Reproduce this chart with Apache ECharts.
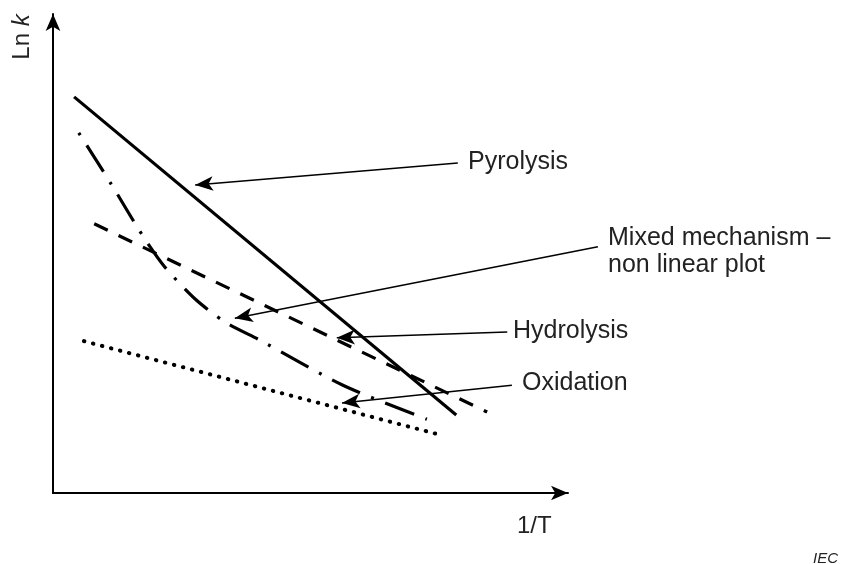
<!DOCTYPE html>
<html>
<head>
<meta charset="utf-8">
<script src="https://cdn.jsdelivr.net/npm/echarts@6/dist/echarts.min.js"></script>
<style>
  html, body { margin: 0; padding: 0; background: #fff; }
  #chart { width: 841px; height: 564px; }
</style>
</head>
<body>
<div id="chart"></div>
<script>
  // esquema sin escala: x = 1/T, y = Ln k, ambos en unidades 0..100
  const pyrolysis  = [[4.1, 82.7], [78.3, 16.3]];
  const hydrolysis = [[8.0, 56.2], [84.3, 16.9]];
  const mixed      = [[5.0, 75.2], [11.3, 64.5], [17.3, 53.9], [21.7, 47.2], [27.6, 40.5],
                      [33.4, 35.7], [40.2, 31.9], [56.3, 22.5], [72.6, 15.4]];
  const oxidation  = [[6.0, 31.7], [74.6, 12.3]];

  // flechas de las etiquetas: [desde, hasta]
  const arrowPyrolysis  = [[78.6, 68.9], [27.6, 64.3]];
  const arrowMixed      = [[105.8, 51.4], [35.3, 36.5]];
  const arrowHydrolysis = [[88.2, 33.6], [55.1, 32.4]];
  const arrowOxidation  = [[89.1, 22.5], [56.1, 18.8]];

  const labels = ['Pyrolysis', 'Mixed mechanism –\nnon linear plot', 'Hydrolysis', 'Oxidation'];

  const FUENTE = '"Liberation Sans", Arial, sans-serif';
  const TINTA = '#222';

  function flecha(par) {
    return [{ coord: par[0] }, { coord: par[1] }];
  }

  function texto(t, x, y, extra) {
    return {
      type: 'text', x: x, y: y, silent: true,
      style: Object.assign({ text: t, fill: TINTA, font: '25px ' + FUENTE,
                             align: 'left', verticalAlign: 'middle' }, extra || {})
    };
  }

  const oculto = { show: false };
  const chart = echarts.init(document.getElementById('chart'), null, { renderer: 'canvas' });
  const ejeBase = {
    type: 'value', min: 0, max: 100,
    axisLine: { show: true, symbol: ['none', 'arrow'], symbolSize: [11, 17],
                lineStyle: { color: '#000', width: 2 } },
    axisTick: oculto, axisLabel: oculto, splitLine: oculto
  };
  // segundo grid, mismas unidades pero más ancho: deja salir la flecha de "Mixed"
  const ejeAncho = { type: 'value', min: 0, max: 153, gridIndex: 1,
                     axisLine: oculto, axisTick: oculto, axisLabel: oculto, splitLine: oculto };
  const ejeAlto = { type: 'value', min: 0, max: 100, gridIndex: 1,
                    axisLine: oculto, axisTick: oculto, axisLabel: oculto, splitLine: oculto };

  chart.setOption({
    backgroundColor: '#fff',
    animation: false,
    grid: [{ left: 53, top: 14, width: 515, height: 479 },
           { left: 53, top: 14, width: 788, height: 479 }],
    xAxis: [ejeBase, ejeAncho],
    yAxis: [ejeBase, ejeAlto],
    series: [
      { type: 'line', data: pyrolysis, symbol: 'none',
        lineStyle: { color: '#000', width: 3.2 } },
      { type: 'line', data: hydrolysis, symbol: 'none',
        lineStyle: { color: '#000', width: 3.2, type: [15, 12] } },
      { type: 'line', data: mixed, symbol: 'none', smooth: 0.25,
        lineStyle: { color: '#000', width: 3.2, type: [31, 12, 3, 12], dashOffset: 43 } },
      { type: 'line', data: oxidation, symbol: 'none',
        lineStyle: { color: '#000', width: 4, type: [0.5, 8.8], cap: 'round' } },
      { type: 'line', data: [], xAxisIndex: 1, yAxisIndex: 1, symbol: 'none',
        markLine: {
          silent: true, symbol: ['none', 'arrow'], symbolSize: [11, 18],
          label: { show: false },
          lineStyle: { color: '#000', width: 1.5, type: 'solid' },
          data: [flecha(arrowPyrolysis), flecha(arrowMixed),
                 flecha(arrowHydrolysis), flecha(arrowOxidation)]
        } }
    ],
    graphic: [
      texto(labels[0], 468, 162.5),
      texto(labels[1], 608, 251.5, { lineHeight: 27 }),
      texto(labels[2], 513, 331),
      texto(labels[3], 522, 383.5),
      texto('1/T', 517, 526, { font: '24px ' + FUENTE }),
      {
        type: 'text', x: 22, y: 37, rotation: Math.PI / 2, silent: true,
        style: { text: '{a|Ln }{b|k}', align: 'center', verticalAlign: 'middle',
                 rich: { a: { font: '24px ' + FUENTE, fill: TINTA },
                         b: { font: 'italic 24px ' + FUENTE, fill: TINTA } } }
      },
      texto('IEC', 813, 559, { font: 'italic 15px ' + FUENTE })
    ]
  });
</script>
</body>
</html>
